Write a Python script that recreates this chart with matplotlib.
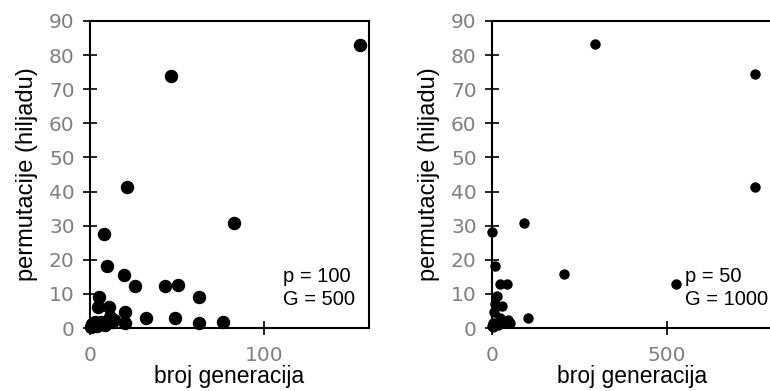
import matplotlib.pyplot as plt

# p = 100, G = 500
gen_a = [155, 46.5, 21, 82.5, 8, 10, 19.5, 26, 43, 50.5, 62.5, 5, 4.5, 11, 20,
         32, 48.5, 62.5, 76, 20, 3, 2, 6.5, 11.5, 12.5, 8.5, 0.5, 1, 4, 14]
perm_a = [83, 73.8, 41.2, 30.9, 27.5, 18.3, 15.5, 12.3, 12.3, 12.6, 9.2, 9.2, 6.1, 6.3, 4.6,
          3.0, 3.0, 1.4, 1.9, 1.6, 1.9, 0.9, 1.9, 3.3, 1.9, 0.9, 0.3, 1.2, 0.6, 2.2]

# p = 50, G = 1000
gen_b = [293, 750, 750, 90, 1, 206, 526, 104, 8.5, 23, 42, 14, 28, 9, 6,
         47, 23, 32, 13, 3, 0, 51, 2, 18]
perm_b = [83.3, 74.4, 41.4, 30.9, 28.2, 15.7, 12.8, 3.0, 18.3, 12.9, 12.9, 9.4, 6.4, 7.0, 4.8,
          2.3, 2.8, 1.9, 1.3, 1.5, 0.5, 1.6, 0.3, 0.8]

yticks = list(range(0, 100, 10))

fig = plt.figure(figsize=(7.7, 3.91), dpi=100)
ax1 = fig.add_axes([90/770, 63/391, 279/770, 307/391])
ax2 = fig.add_axes([492/770, 63/391, 280/770, 307/391])

def style(ax, xmax, xticks, txt):
    ax.set_xlim(0, xmax)
    ax.set_ylim(0, 90)
    ax.set_xticks(xticks)
    ax.set_yticks(yticks)
    for s in ax.spines.values():
        s.set_linewidth(1.5)
        s.set_color('black')
    ax.tick_params(direction='inout', length=10, width=1.2, color='black',
                   labelcolor='#808080', labelsize=14.5)
    ax.tick_params(axis='x', pad=8)
    ax.tick_params(axis='y', pad=6)
    ax.set_xlabel('broj generacija', fontsize=16.5, family='Liberation Sans', labelpad=0)
    ax.set_ylabel('permutacije (hiljadu)', fontsize=17, family='Liberation Sans', labelpad=8)
    ax.text(0.69, 0.13, txt, transform=ax.transAxes, fontsize=14.5,
            family='Liberation Sans', va='center', linespacing=1.3)

ax1.scatter(gen_a, perm_a, s=75, color='black', clip_on=False, zorder=3)
style(ax1, 160, [0, 100], 'p = 100\nG = 500')

ax2.scatter(gen_b, perm_b, s=42, color='black', clip_on=False, zorder=3)
style(ax2, 800, [0, 500], 'p = 50\nG = 1000')

plt.savefig('out.png', dpi=100)
